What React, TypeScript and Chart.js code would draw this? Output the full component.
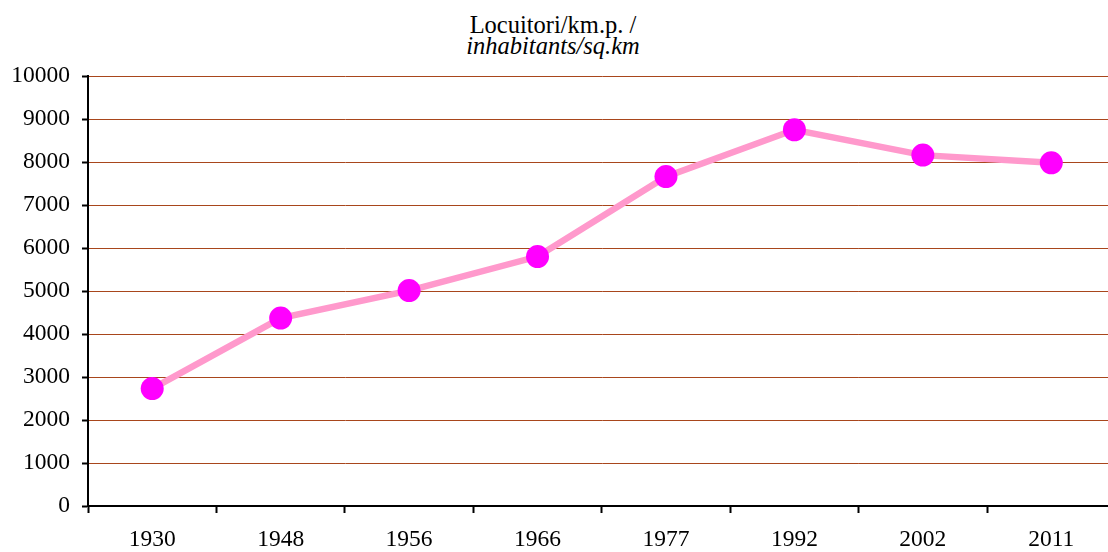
import React, { useEffect, useRef } from "react";
import { Chart, registerables } from "chart.js";

Chart.register(...registerables);

const years = ["1930", "1948", "1956", "1966", "1977", "1992", "2002", "2011"];
const density = [2730, 4370, 5010, 5800, 7660, 8750, 8160, 7980];
const titleLine1 = "Locuitori/km.p. /";
const titleLine2 = "inhabitants/sq.km";

const FONT = "'Liberation Serif', 'Times New Roman', serif";
const GRID = "#A8461C";
const CANVAS_W = 1127;

export default function App() {
  const ref = useRef<HTMLCanvasElement | null>(null);

  useEffect(() => {
    if (!ref.current) return;
    const chart = new Chart(ref.current, {
      type: "line",
      data: {
        labels: years,
        datasets: [
          {
            data: density,
            borderColor: "#FF99CC",
            borderWidth: 6.5,
            backgroundColor: "#FF00FF",
            pointBackgroundColor: "#FF00FF",
            pointBorderWidth: 0,
            pointRadius: 11.5,
            tension: 0,
            fill: false,
          },
        ],
      },
      options: {
        responsive: false,
        animation: false,
        devicePixelRatio: 1,
        layout: { padding: { left: 11, right: 0, top: 76, bottom: 0 } },
        plugins: {
          legend: { display: false },
          title: { display: false },
          tooltip: { enabled: false },
        },
        scales: {
          x: {
            offset: true,
            afterFit: (s: any) => {
              s.height = 46;
              s.paddingLeft = 0;
              s.paddingRight = 0;
            },
            grid: {
              offset: true,
              drawOnChartArea: false,
              drawTicks: true,
              tickLength: 7,
              tickWidth: 2,
              tickColor: "#000",
              color: "#000",
            },
            border: { display: true, color: "#000", width: 2 },
            ticks: {
              color: "#000",
              padding: 15,
              font: { family: FONT, size: 23.5, lineHeight: 1 },
              maxRotation: 0,
              autoSkip: false,
            },
          },
          y: {
            min: 0,
            max: 10000,
            afterFit: (s: any) => {
              s.width = 77;
            },
            grid: {
              color: (c: any) => (c.tick && c.tick.value === 0 ? "#000" : GRID),
              lineWidth: 1,
              tickLength: 6,
              tickWidth: 2,
              tickColor: "#000",
            },
            border: { display: true, color: "#000", width: 2 },
            ticks: {
              stepSize: 1000,
              color: "#000",
              padding: 12,
              font: { family: FONT, size: 23.5, lineHeight: 1 },
              callback: (v: any) => String(v),
            },
          },
        },
      },
    });
    return () => chart.destroy();
  }, []);

  return (
    <div
      style={{
        position: "fixed",
        left: 0,
        top: 0,
        width: 1108,
        height: 552,
        overflow: "hidden",
        background: "#fff",
      }}
    >
      <div
        style={{
          position: "absolute",
          left: 0,
          top: 14,
          width: 1106,
          textAlign: "center",
          fontFamily: FONT,
          fontSize: 24.5,
          lineHeight: "21px",
          color: "#000",
        }}
      >
        <div>{titleLine1}</div>
        <div style={{ fontStyle: "italic" }}>{titleLine2}</div>
      </div>
      <canvas
        ref={ref}
        width={CANVAS_W}
        height={552}
        style={{ display: "block", position: "absolute", left: 0, top: 0, width: CANVAS_W, height: 552 }}
      />
    </div>
  );
}
